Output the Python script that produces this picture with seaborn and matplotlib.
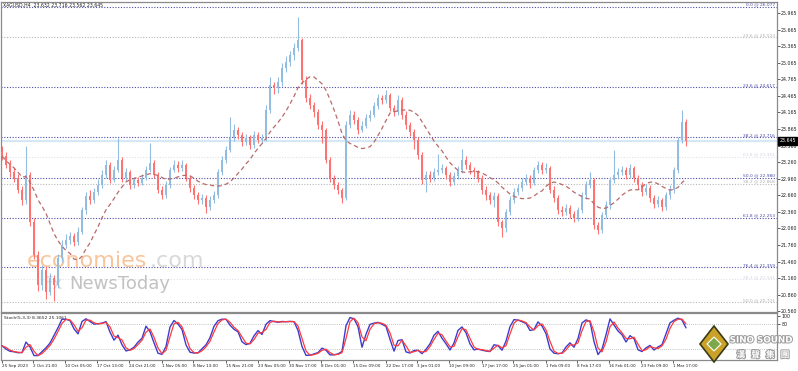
import numpy as np
import pandas as pd
import matplotlib
matplotlib.use("Agg")
import matplotlib.pyplot as plt
import matplotlib.transforms as mtransforms
import matplotlib.patheffects as pe
from matplotlib.patches import Polygon
import seaborn as sns

# ---------------- data ----------------
first_open = 23.45
closes = [23.37, 23.21, 23.08, 22.97, 22.76, 22.57, 23.03, 22.18, 21.58, 21.03,
          21.30, 20.91, 21.16, 21.03, 21.52, 21.76, 21.85, 21.92, 21.81, 21.99,
          22.39, 22.65, 22.57, 22.72, 22.85, 23.03, 23.21, 22.94, 23.12, 23.30,
          22.97, 23.08, 22.85, 22.94, 22.88, 22.97, 23.12, 23.24, 23.03, 22.76,
          22.66, 22.85, 23.12, 23.21, 23.15, 23.21, 22.97, 22.79, 22.66, 22.57,
          22.61, 22.45, 22.57, 22.66, 23.08, 23.30, 23.48, 23.70, 23.84, 23.75,
          23.63, 23.70, 23.57, 23.75, 23.66, 23.70, 24.21, 24.66, 24.60, 24.71,
          24.97, 25.08, 25.20, 25.33, 25.48, 24.75, 24.42, 24.30, 24.17, 23.93,
          23.84, 23.30, 22.97, 22.85, 22.76, 22.61, 23.93, 24.12, 24.02, 23.84,
          23.92, 24.06, 24.12, 24.28, 24.42, 24.39, 24.48, 24.24, 24.17, 24.39,
          24.12, 23.93, 23.81, 23.66, 23.39, 22.94, 23.03, 22.97, 23.08, 23.12,
          23.15, 23.03, 22.90, 23.01, 23.12, 23.30, 23.21, 23.12, 23.08, 22.97,
          22.76, 22.66, 22.57, 22.65, 22.18, 22.07, 22.36, 22.57, 22.72, 22.79,
          22.90, 22.97, 22.88, 23.12, 23.21, 23.12, 23.15, 22.76, 22.61, 22.39,
          22.36, 22.43, 22.32, 22.25, 22.39, 22.66, 22.85, 22.94, 22.12, 22.03,
          22.30, 22.48, 22.94, 23.03, 23.08, 23.12, 23.03, 23.15, 22.97, 22.85,
          22.72, 22.79, 22.61, 22.50, 22.57, 22.45, 22.66, 22.76, 23.12, 23.66,
          23.99, 23.645]
highs = [23.55, 23.45, 23.30, 23.15, 23.05, 22.82, 23.55, 23.08, 22.25, 21.65,
         21.40, 21.38, 21.25, 21.22, 21.60, 21.85, 21.95, 22.00, 21.98, 22.08,
         22.45, 22.72, 22.75, 22.80, 22.95, 23.12, 23.30, 23.26, 23.20, 23.70,
         23.35, 23.15, 23.12, 23.00, 23.00, 23.05, 23.20, 23.60, 23.30, 23.08,
         22.82, 22.92, 23.18, 23.30, 23.28, 23.30, 23.25, 23.02, 22.85, 22.72,
         22.68, 22.66, 22.64, 22.74, 23.14, 23.38, 23.56, 24.08, 23.95, 23.90,
         23.80, 23.78, 23.75, 23.82, 23.80, 23.78, 24.30, 24.80, 24.72, 24.80,
         25.05, 25.18, 25.28, 25.42, 25.89, 25.52, 24.82, 24.50, 24.35, 24.22,
         24.00, 23.88, 23.36, 23.02, 22.90, 22.80, 24.00, 24.20, 24.18, 24.08,
         24.00, 24.14, 24.20, 24.36, 24.50, 24.48, 24.57, 24.52, 24.30, 24.48,
         24.44, 24.18, 23.98, 23.86, 23.72, 23.44, 23.10, 23.10, 23.15, 23.40,
         23.22, 23.20, 23.08, 23.08, 23.20, 23.50, 23.38, 23.26, 23.18, 23.12,
         23.02, 22.82, 22.72, 22.72, 22.70, 22.22, 22.42, 22.64, 22.80, 22.86,
         22.98, 23.05, 23.02, 23.18, 23.28, 23.26, 23.24, 23.20, 22.82, 22.66,
         22.46, 22.50, 22.48, 22.38, 22.45, 22.72, 22.92, 23.08, 22.98, 22.18,
         22.36, 22.55, 23.00, 23.48, 23.16, 23.20, 23.18, 23.22, 23.20, 23.02,
         22.90, 22.86, 22.84, 22.66, 22.64, 22.62, 22.72, 22.84, 23.18, 23.72,
         24.21, 24.05]
lows = [23.30, 23.15, 23.00, 22.90, 22.70, 22.48, 22.50, 22.10, 21.50, 20.92,
        20.95, 20.78, 20.85, 20.75, 20.98, 21.45, 21.70, 21.78, 21.74, 21.76,
        21.95, 22.33, 22.50, 22.52, 22.66, 22.80, 22.98, 22.88, 22.90, 23.08,
        22.90, 22.92, 22.78, 22.80, 22.82, 22.84, 22.93, 23.08, 22.98, 22.70,
        22.60, 22.62, 22.80, 23.08, 23.08, 23.10, 22.92, 22.72, 22.60, 22.50,
        22.50, 22.34, 22.40, 22.52, 22.62, 23.02, 23.25, 23.44, 23.64, 23.68,
        23.55, 23.58, 23.50, 23.52, 23.60, 23.60, 23.65, 24.15, 24.50, 24.52,
        24.65, 24.90, 25.00, 25.12, 25.28, 24.68, 24.35, 24.22, 24.08, 23.86,
        23.60, 23.24, 22.90, 22.78, 22.68, 22.52, 22.58, 23.88, 23.95, 23.78,
        23.80, 23.88, 24.00, 24.08, 24.22, 24.32, 24.34, 24.18, 24.10, 24.12,
        24.05, 23.86, 23.74, 23.50, 23.32, 22.86, 22.72, 22.90, 22.92, 23.02,
        23.06, 22.96, 22.82, 22.85, 22.96, 23.06, 23.14, 23.05, 23.00, 22.90,
        22.68, 22.58, 22.50, 22.45, 22.10, 21.90, 22.00, 22.30, 22.52, 22.66,
        22.74, 22.84, 22.80, 22.84, 23.06, 23.05, 23.06, 22.70, 22.54, 22.32,
        22.28, 22.30, 22.25, 22.18, 22.20, 22.34, 22.60, 22.80, 22.05, 21.95,
        21.98, 22.24, 22.42, 22.88, 22.98, 23.02, 22.96, 22.98, 22.90, 22.78,
        22.65, 22.66, 22.54, 22.43, 22.44, 22.38, 22.40, 22.60, 22.70, 23.06,
        23.60, 23.56]

ma_period = 12
stoch_k, stoch_slow, stoch_d = 3, 2, 2

fib_labels = ["0.0 @ 26.077", "23.6 @ 25.523", "23.6 @ 24.617", "38.2 @ 23.716",
              "61.8 @ 23.361", "50.0 @ 22.980", "38.2 @ 22.868", "61.8 @ 22.253",
              "76.4 @ 21.359", "38.2 @ 21.141", "50.0 @ 20.721"]
fib_values = [26.077, 25.523, 24.617, 23.716, 23.361, 22.980, 22.868, 22.253,
              21.359, 21.141, 20.721]
fib_kind = ["main", "grey", "main", "main", "faint", "main", "grey", "main",
            "main", "faint", "grey"]

price_ticks = [25.965, 25.665, 25.365, 25.065, 24.765, 24.465, 24.165, 23.865,
               23.560, 23.260, 22.960, 22.660, 22.360, 22.060, 21.760, 21.460,
               21.160, 20.860, 20.560]
last_price = 23.645
title_text = "XAGUSD,H4  23.632 23.716 23.562 23.645"
stoch_text = "Stoch(5,3,3) 8.3652 25.1061"

date_labels = ["25 Sep 2023", "2 Oct 21:00", "10 Oct 05:00", "17 Oct 13:00",
               "24 Oct 21:00", "1 Nov 05:00", "8 Nov 13:00", "15 Nov 21:00",
               "23 Nov 05:00", "30 Nov 17:00", "8 Dec 01:00", "15 Dec 09:00",
               "22 Dec 17:00", "3 Jan 01:00", "10 Jan 09:00", "17 Jan 17:00",
               "25 Jan 01:00", "1 Feb 09:00", "8 Feb 17:00", "16 Feb 01:00",
               "23 Feb 09:00", "1 Mar 17:00"]
date_pos = [0.0, 7.8, 15.8, 23.8, 31.8, 40.0, 47.8, 56.0, 64.0, 71.8, 79.8,
            87.8, 96.0, 103.8, 111.8, 120.0, 127.8, 136.0, 143.8, 151.8,
            159.8, 167.8]

# ---------------- derived frame ----------------
df = pd.DataFrame({"close": closes, "high": highs, "low": lows})
df["open"] = [first_open] + closes[:-1]
df["x"] = np.arange(len(df))
df["ma"] = df["close"].rolling(ma_period, min_periods=1).mean()
ll = df["low"].rolling(stoch_k, min_periods=1).min()
hh = df["high"].rolling(stoch_k, min_periods=1).max()
num = (df["close"] - ll).rolling(stoch_slow, min_periods=1).sum()
den = (hh - ll).rolling(stoch_slow, min_periods=1).sum()
df["k"] = 100 * num / den
df["d"] = df["k"].rolling(stoch_d, min_periods=1).mean()

# ---------------- figure ----------------
sns.set_theme(style="white")
plt.rcParams["font.family"] = ["DejaVu Sans", "Noto Sans CJK TC"]

W, H = 798, 371
fig = plt.figure(figsize=(W / 100, H / 100), dpi=100)
fig.patch.set_facecolor("white")
axp = fig.add_axes([1 / W, 1 - 312 / H, 776 / W, 310 / H])
axs = fig.add_axes([1 / W, 1 - 360 / H, 776 / W, 47 / H], sharex=axp)

UP, DN = "#93bde0", "#ff7272"
colors = np.where(df["close"] >= df["open"], UP, DN)

# current price line
axp.axhline(last_price, color="#d4e8f5", lw=1.6, zorder=0)

# fibonacci levels
fib_style = {"main": "#4b4ba8", "grey": "#b8b8b8", "faint": "#e0e0ea"}
txt_col = {"main": "#4b4ba8", "grey": "#b0b0b0", "faint": "#d4d4e0"}
for lab, val, kind in zip(fib_labels, fib_values, fib_kind):
    axp.axhline(val, color=fib_style[kind], lw=0.8, ls=(0, (1, 1.5)), zorder=1)
    axp.text(0.997, val, lab, transform=axp.get_yaxis_transform(), ha="right",
             va="bottom", fontsize=3.2, color=txt_col[kind], zorder=5)

# candles
body_lo = np.minimum(df["open"], df["close"])
body_h = np.maximum(np.abs(df["close"] - df["open"]), 0.015)
axp.vlines(df["x"], df["low"], df["high"], colors=colors, lw=0.8, zorder=2)
axp.bar(df["x"], body_h, bottom=body_lo, width=0.5, color=colors, lw=0, zorder=3)

# moving average
sns.lineplot(data=df, x="x", y="ma", ax=axp, color="#b86a6a", lw=0.9,
             linestyle=(0, (3.5, 2.5)), zorder=4)

axp.set_xlim(-0.25, 193.75)
axp.set_ylim(20.545, 26.164)
axp.yaxis.tick_right()
axp.set_yticks(price_ticks)
axp.set_yticklabels([f"{v:.3f}" for v in price_ticks])
axp.tick_params(axis="y", labelsize=3.4, length=2, width=0.5, pad=1, colors="#202020",
                right=True, left=False)
axp.tick_params(axis="x", bottom=False, labelbottom=False)
axp.set_xlabel("")
axp.set_ylabel("")
for s in axp.spines.values():
    s.set_color("#8a8a8a")
    s.set_linewidth(0.9)

axp.text(0.002, 0.99, title_text, transform=axp.transAxes, fontsize=3.3,
         color="#202020", va="center", ha="left", zorder=6)

# last price box
trans = mtransforms.blended_transform_factory(axp.transAxes, axp.transData)
axp.text(1.003, last_price, f"{last_price:.3f}", transform=trans, fontsize=3.4,
         color="white", va="center", ha="left",
         bbox=dict(boxstyle="square,pad=0.25", fc="black", ec="black"), zorder=7)

# watermarks
axp.text(0.033, 0.145, "economies", transform=axp.transAxes, fontsize=16,
         color="#f6b27a", alpha=0.75, ha="left", va="baseline", zorder=1)
axp.text(0.192, 0.145, ".com", transform=axp.transAxes, fontsize=16,
         color="#c8c8c8", alpha=0.7, ha="left", va="baseline", zorder=1)
axp.text(0.055, 0.075, "Fx", transform=axp.transAxes, fontsize=12,
         color="#d8d8d8", alpha=0.9, ha="left", va="baseline", zorder=1)
axp.text(0.088, 0.075, "NewsToday", transform=axp.transAxes, fontsize=13,
         color="#b8b8b8", alpha=0.85, ha="left", va="baseline", zorder=1)

# stochastic pane
sns.lineplot(data=df, x="x", y="k", ax=axs, color="#3c3ccf", lw=1.0, zorder=3)
sns.lineplot(data=df, x="x", y="d", ax=axs, color="#ff3b3b", lw=0.9, zorder=4)
for lv in (20, 80):
    axs.axhline(lv, color="#b0b0b0", lw=0.6, ls=(0, (1, 1.5)), zorder=1)
axs.set_ylim(-6, 106)
axs.yaxis.tick_right()
axs.set_yticks([100, 80])
axs.set_yticklabels(["100", "80"])
axs.tick_params(axis="y", labelsize=3.4, length=2, width=0.5, pad=1, colors="#202020",
                right=True, left=False)
axs.set_xticks(date_pos)
axs.set_xticklabels(date_labels, ha="left")
axs.tick_params(axis="x", labelsize=3.0, length=2, width=0.5, pad=1, colors="#202020",
                bottom=True)
axs.set_xlabel("")
axs.set_ylabel("")
for s in axs.spines.values():
    s.set_color("#8a8a8a")
    s.set_linewidth(0.9)
axs.text(0.004, 0.9, stoch_text, transform=axs.transAxes, fontsize=3.2,
         color="#202020", va="center", ha="left", zorder=6)

# SINO SOUND logo
logo = Polygon([[714 / W, 1 - 326 / H], [728 / W, 1 - 344 / H], [714 / W, 1 - 362 / H],
                [700 / W, 1 - 344 / H]], closed=True, transform=fig.transFigure,
               fc="#c9a227", ec="#3a3a1a", lw=1.2, zorder=10)
fig.patches.append(logo)
inner = Polygon([[714 / W, 1 - 337 / H], [721 / W, 1 - 344 / H], [714 / W, 1 - 351 / H],
                 [707 / W, 1 - 344 / H]], closed=True, transform=fig.transFigure,
                fc="#7aa84a", ec="white", lw=0.8, zorder=11)
fig.patches.append(inner)
stroke = [pe.withStroke(linewidth=1.4, foreground="#9a9a9a")]
fig.text(761 / W, 1 - 340 / H, "SINO SOUND", fontsize=6.3, fontweight="bold",
         color="white", ha="center", va="center", zorder=12, path_effects=stroke)
fig.text(763 / W, 1 - 355 / H, "漢   聲   集   團", fontsize=6.3, fontweight="bold",
         family=["Noto Sans CJK TC", "DejaVu Sans"],
         color="white", ha="center", va="center", zorder=12, path_effects=stroke)

fig.savefig("out.png", dpi=100)
